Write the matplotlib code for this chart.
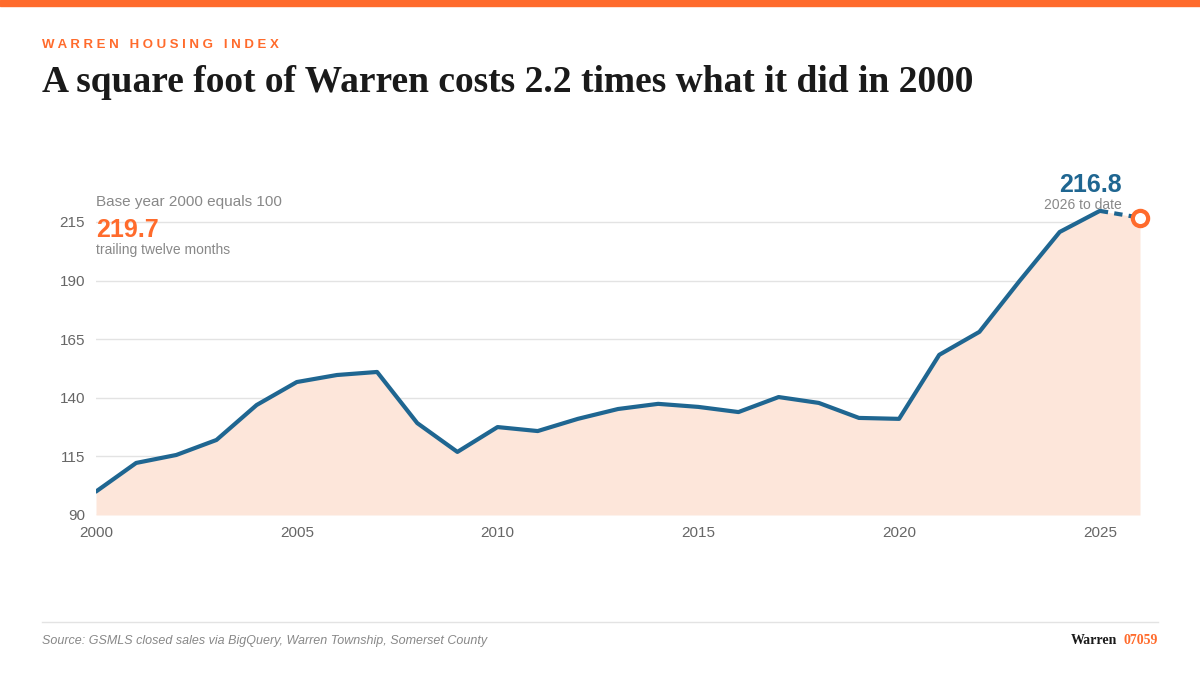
import matplotlib
matplotlib.use("Agg")
import matplotlib.pyplot as plt
from matplotlib.lines import Line2D
from matplotlib.patches import Rectangle

plt.rcParams['font.family'] = ['Liberation Sans', 'DejaVu Sans']

years = list(range(2000, 2027))
index = [100, 112.2, 115.6, 122, 136.9, 146.7, 149.7, 151, 129.2, 116.9, 127.5, 125.8,
         131, 135.2, 137.4, 136.1, 133.9, 140.3, 137.8, 131.4, 131, 158.3, 168.1, 189.8,
         210.7, 219.7, 216.8]
yticks = [90, 115, 140, 165, 190, 215]
xticks = [2000, 2005, 2010, 2015, 2020, 2025]

ORANGE = "#ff6b2c"
BLUE = "#1f6691"
W, H = 1200, 675
fig = plt.figure(figsize=(12, 6.75), dpi=100)
fig.patches.append(Rectangle((0, 1 - 6 / H), 1, 6 / H, transform=fig.transFigure, color=ORANGE))

ax = fig.add_axes([96 / W, 1 - 515 / H, (1140 - 96) / W, (515 - 190) / H])
ax.set_xlim(2000, 2026)
ax.set_ylim(90, 228.6)
ax.fill_between(years, index, 90, color="#fde6da", lw=0)
ax.plot(years[:-1], index[:-1], color=BLUE, lw=3, solid_capstyle="round")
ax.plot(years[-2:], index[-2:], color=BLUE, lw=3, ls=(0, (2, 1.5)))
ax.plot([years[-1]], [index[-1]], "o", ms=11, mfc="white", mec=ORANGE, mew=3, zorder=5, clip_on=False)
ax.set_yticks(yticks)
ax.set_xticks(xticks)
ax.grid(axis="y", color="#e3e3e3", lw=1)
ax.set_axisbelow(True)
for s in ax.spines.values():
    s.set_visible(False)
ax.tick_params(length=0, labelsize=11, colors="#666666", pad=8)

fig.text(42 / W, 1 - 45 / H, "W A R R E N   H O U S I N G   I N D E X", color=ORANGE, fontsize=9.5,
         weight="bold", va="center")
fig.text(42 / W, 1 - 82 / H, "A square foot of Warren costs 2.2 times what it did in 2000",
         fontsize=27, weight="bold", va="center", fontfamily="Liberation Serif", color="#1a1a1a")
fig.text(96 / W, 1 - 202 / H, "Base year 2000 equals 100", fontsize=11, color="#888888", va="center")
fig.text(96 / W, 1 - 230 / H, "219.7", fontsize=18, weight="bold", color=ORANGE, va="center")
fig.text(96 / W, 1 - 250 / H, "trailing twelve months", fontsize=10, color="#888888", va="center")
fig.text(1122 / W, 1 - 185 / H, "216.8", fontsize=18, weight="bold", color=BLUE, va="center", ha="right")
fig.text(1122 / W, 1 - 205 / H, "2026 to date", fontsize=10, color="#888888", va="center", ha="right")

fig.add_artist(Line2D([42 / W, 1158 / W], [1 - 622 / H] * 2, color="#e3e3e3", lw=1))
fig.text(42 / W, 1 - 641 / H, "Source: GSMLS closed sales via BigQuery, Warren Township, Somerset County",
         fontsize=9, style="italic", color="#888888", va="center")
fig.text(1117 / W, 1 - 641 / H, "Warren", fontsize=10, weight="bold", fontfamily="Liberation Serif",
         color="#1a1a1a", va="center", ha="right")
fig.text(1158 / W, 1 - 641 / H, "07059", fontsize=10, weight="bold", fontfamily="Liberation Serif",
         color=ORANGE, va="center", ha="right")
fig.savefig("out.png", dpi=100, facecolor="white")
